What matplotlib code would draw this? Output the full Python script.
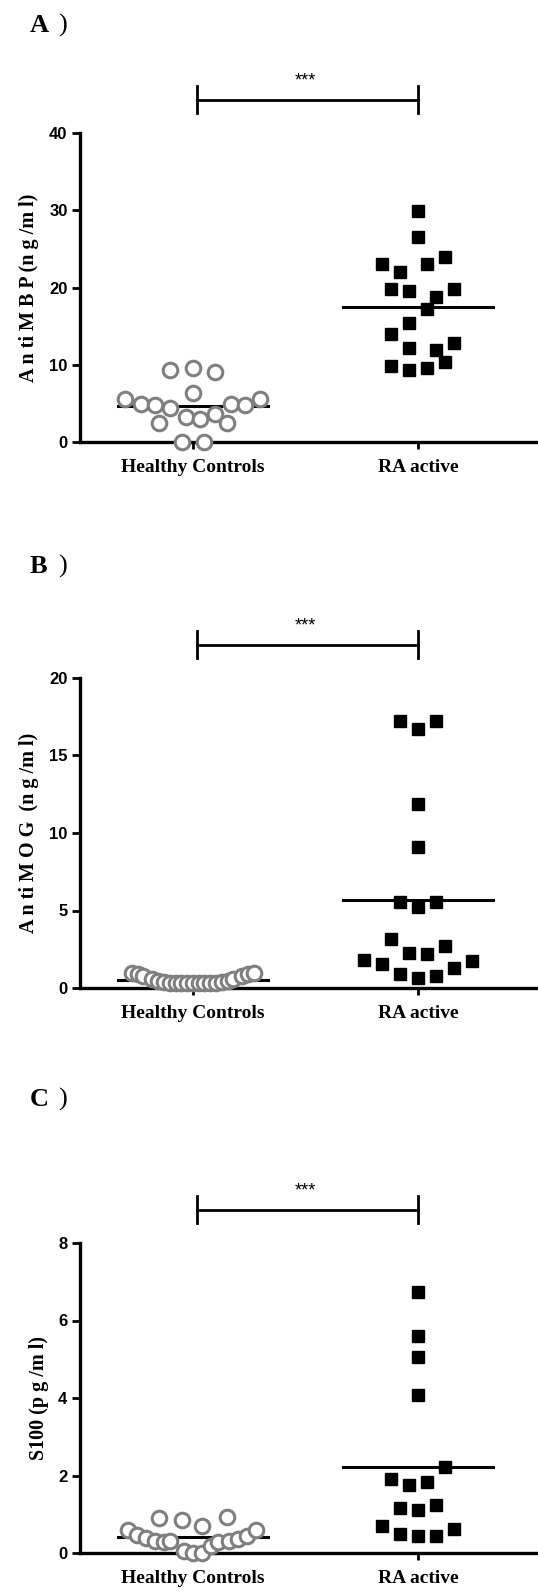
import matplotlib.pyplot as plt
import numpy as np

groups = ['Healthy Controls', 'RA active']

# A) anti MBP (ng/ml)
mbp_hc = [9.33, 9.54, 9.02, 6.29, 5.55, 4.86, 4.77, 4.34, 4.86, 4.77, 5.55,
          3.25, 3.04, 3.56, 2.52, 2.52, 0.0, 0.0]
mbp_hc_dx = [-0.10, 0.0, 0.10, 0.0, -0.30, -0.23, -0.17, -0.10, 0.17, 0.23, 0.30,
             -0.03, 0.03, 0.10, -0.15, 0.15, -0.05, 0.05]
mbp_ra = [29.85, 26.55, 23.08, 23.0, 23.95, 22.0, 19.87, 19.52, 19.87, 18.74,
          17.27, 15.4, 13.97, 12.8, 12.23, 11.93, 10.41, 9.89, 9.33, 9.63]
mbp_ra_dx = [0.0, 0.0, -0.16, 0.04, 0.12, -0.08, -0.12, -0.04, 0.16, 0.08,
             0.04, -0.04, -0.12, 0.16, -0.04, 0.08, 0.12, -0.12, -0.04, 0.04]

# B) anti MOG (ng/ml)
mog_hc = [0.95, 0.9, 0.8, 0.55, 0.45, 0.4, 0.35, 0.35, 0.3, 0.3, 0.3, 0.3, 0.3,
          0.35, 0.35, 0.4, 0.45, 0.55, 0.8, 0.9, 0.95]
mog_hc_dx = [-0.27, -0.245, -0.22, -0.18, -0.154, -0.129, -0.103, -0.077, -0.051,
             -0.026, 0.0, 0.026, 0.051, 0.077, 0.103, 0.129, 0.154, 0.18,
             0.22, 0.245, 0.27]
mog_ra = [17.24, 16.70, 17.24, 11.85, 9.12, 5.56, 5.56, 5.24, 3.13, 2.72, 2.28,
          2.18, 1.79, 1.57, 1.72, 1.29, 0.93, 0.67, 0.75]
mog_ra_dx = [-0.08, 0.0, 0.08, 0.0, 0.0, -0.08, 0.08, 0.0, -0.12, 0.12, -0.04,
             0.04, -0.24, -0.16, 0.24, 0.16, -0.08, 0.0, 0.08]

# C) S100 (pg/ml)
s100_hc = [0.59, 0.46, 0.40, 0.30, 0.29, 0.30, 0.90, 0.84, 0.04, 0.0, 0.01,
           0.69, 0.17, 0.29, 0.30, 0.36, 0.43, 0.59, 0.92]
s100_hc_dx = [-0.29, -0.25, -0.21, -0.17, -0.13, -0.10, -0.15, -0.05, -0.04, 0.0,
              0.04, 0.04, 0.08, 0.11, 0.16, 0.20, 0.24, 0.28, 0.15]
s100_ra = [6.74, 5.6, 5.07, 4.07, 2.22, 1.92, 1.76, 1.83, 1.16, 1.10, 1.24,
           0.69, 0.62, 0.50, 0.43, 0.43]
s100_ra_dx = [0.0, 0.0, 0.0, 0.0, 0.12, -0.12, -0.04, 0.04, -0.08, 0.0, 0.08,
              -0.16, 0.16, -0.08, 0.0, 0.08]

panels = [
    ('A', 'A n ti M B P (n g /m l)', mbp_hc, mbp_hc_dx, mbp_ra, mbp_ra_dx, [0, 10, 20, 30, 40]),
    ('B', 'A n ti M O G  (n g /m l)', mog_hc, mog_hc_dx, mog_ra, mog_ra_dx, [0, 5, 10, 15, 20]),
    ('C', 'S100 (p g /m l)', s100_hc, s100_hc_dx, s100_ra, s100_ra_dx, [0, 2, 4, 6, 8]),
]

W, H = 538, 1594
axes_px = [(133, 442), (678, 988), (1243, 1553)]   # top, bottom in pixels
title_px = [32, 573, 1106]

serif = ['Liberation Serif', 'DejaVu Serif']
sans = ['Liberation Sans', 'DejaVu Sans']

fig = plt.figure(figsize=(W / 100, H / 100), dpi=100)

for (letter, ylab, hc, hc_dx, ra, ra_dx, yt), (top, bot), ty in zip(panels, axes_px, title_px):
    ax = fig.add_axes([80 / W, 1 - bot / H, (W - 80) / W, (bot - top) / H])

    ax.plot(0 + np.array(hc_dx), hc, 'o', ms=10.5, mfc='white', mec='#7f7f7f',
            mew=2.2, clip_on=False, zorder=3)
    ax.plot(1 + np.array(ra_dx), ra, 's', ms=9, color='black',
            clip_on=False, zorder=3)
    for x0, vals in [(0, hc), (1, ra)]:
        m = np.mean(vals)
        ax.plot([x0 - 0.333, x0 + 0.333], [m, m], color='black', lw=2.2, zorder=2)

    ax.set_xlim(-0.502, (W - 193) / 225)
    ax.set_ylim(yt[0], yt[-1])
    ax.set_yticks(yt)
    ax.set_yticklabels([str(v) for v in yt], family=sans, fontweight='bold', fontsize=12)
    ax.set_xticks([0, 1])
    ax.set_xticklabels(groups, family=serif, fontweight='bold', fontsize=14)
    ax.tick_params(axis='y', length=6, width=2, pad=3)
    ax.tick_params(axis='x', length=5, width=2, pad=7)
    for s in ['top', 'right']:
        ax.spines[s].set_visible(False)
    for s in ['left', 'bottom']:
        ax.spines[s].set_linewidth(2.4)
    ax.set_ylabel(ylab, family=serif, fontweight='bold', fontsize=14.5, labelpad=7)

    # significance bar
    tr = ax.get_xaxis_transform()
    ax.plot([0.02, 1.0], [1.108, 1.108], color='black', lw=2, transform=tr, clip_on=False)
    for xe in [0.02, 1.0]:
        ax.plot([xe, xe], [1.065, 1.152], color='black', lw=2, transform=tr, clip_on=False)
    ax.text(0.5, 1.14, '***', transform=tr, ha='center', va='bottom',
            family=sans, fontsize=13)

    fig.text(30 / W, 1 - ty / H, letter, family=serif, fontweight='bold',
             fontsize=19, ha='left', va='baseline')
    fig.text(58 / W, 1 - ty / H, ')', family=serif, fontsize=19,
             ha='left', va='baseline')

fig.savefig('out.png', dpi=100)
